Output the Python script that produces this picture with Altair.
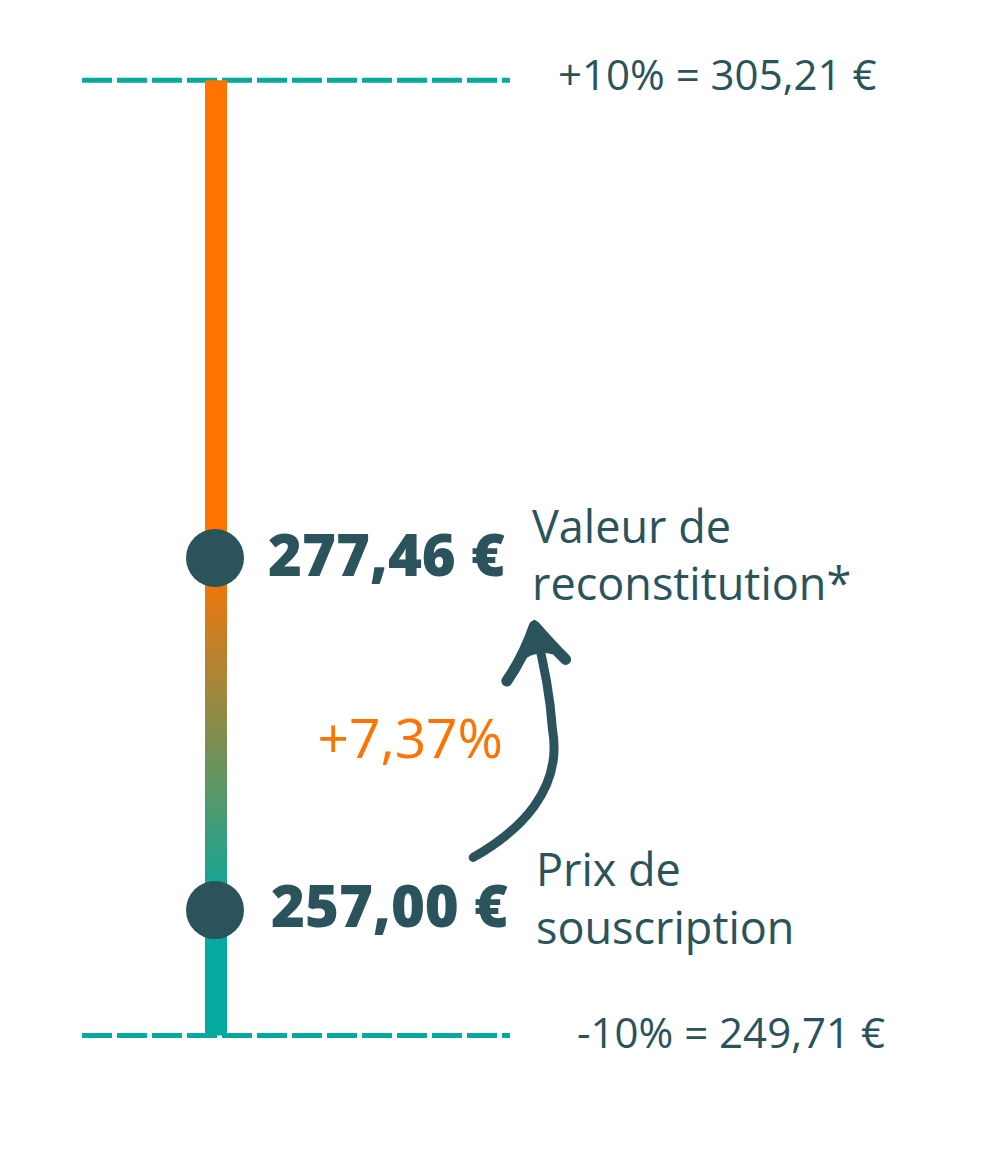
import altair as alt
import pandas as pd

# ---- data ----
level_names = ["+10%", "-10%"]
level_values = [305.21, 249.71]
level_labels = ["+10% = 305,21 €", "-10% = 249,71 €"]

point_names = ["valeur", "prix"]
point_values = [277.46, 257.00]
point_labels = ["277,46 €", "257,00 €"]
desc_line1 = ["Valeur de", "Prix de"]
desc_line2 = ["reconstitution*", "souscription"]

change_label = "+7,37%"

segment_names = ["haut", "transition", "bas"]

# ---- style ----
W, H = 984, 1134
DARK = "#2A535B"
TEAL = "#05A99E"
ORANGE = "#FF7300"
FONT = "Open Sans"

yscale = alt.Scale(domain=[243.525, 309.415], nice=False, zero=False)


def Y(field):
    return alt.Y(field, type="quantitative", scale=yscale, axis=None)


levels = pd.DataFrame({"name": level_names, "value": level_values, "label": level_labels})
points = pd.DataFrame({
    "name": point_names, "value": point_values, "label": point_labels,
    "line1": desc_line1, "line2": desc_line2,
})
segments = pd.DataFrame({
    "segment": segment_names,
    "start": [point_values[0], point_values[1], level_values[1]],
    "end": [level_values[0], point_values[0], point_values[1]],
})
change = pd.DataFrame({
    "label": [change_label],
    "value": [(point_values[0] + point_values[1]) / 2],
})

# dashed level lines
rules = alt.Chart(levels).mark_rule(
    color=TEAL, strokeWidth=5, strokeDash=[30, 5]
).encode(x=alt.value(74), x2=alt.value(502), y=Y("value"))

# vertical bar segments
seg_base = alt.Chart(segments)
bar_top = seg_base.transform_filter(alt.datum.segment == "haut").mark_rect(
    fill=ORANGE
).encode(x=alt.value(197), x2=alt.value(219), y=Y("start"), y2=alt.Y2("end"))
bar_bottom = seg_base.transform_filter(alt.datum.segment == "bas").mark_rect(
    fill=TEAL
).encode(x=alt.value(197), x2=alt.value(219), y=Y("start"), y2=alt.Y2("end"))
grad = alt.Gradient(
    gradient="linear",
    stops=[alt.GradientStop(color=ORANGE, offset=0),
           alt.GradientStop(color=TEAL, offset=1)],
    x1=0, x2=0, y1=0, y2=1,
)
bar_mid = seg_base.transform_filter(alt.datum.segment == "transition").mark_rect(
    fill=grad
).encode(x=alt.value(197), x2=alt.value(219), y=Y("start"), y2=alt.Y2("end"))

# dots
dots = alt.Chart(points).mark_circle(size=3364, color=DARK, opacity=1).encode(
    x=alt.value(207), y=Y("value")
)


def text_layer(df, name_field, name, text_field, x, dy, size, weight=400,
               color=DARK, align="left"):
    return alt.Chart(df).transform_filter(
        alt.datum[name_field] == name
    ).mark_text(
        align=align, baseline="alphabetic", dy=dy, fontSize=size,
        fontWeight=weight, font=FONT, color=color,
    ).encode(x=alt.value(x), y=Y("value"), text=alt.Text(text_field))


texts = [
    text_layer(levels, "name", "+10%", "label", 550, 10, 42),
    text_layer(levels, "name", "-10%", "label", 569, 12, 42),
    text_layer(points, "name", "valeur", "label", 260, 18, 58, 800),
    text_layer(points, "name", "prix", "label", 263, 17, 58, 800),
    text_layer(points, "name", "valeur", "line1", 524, -15, 45),
    text_layer(points, "name", "valeur", "line2", 524, 42, 45),
    text_layer(points, "name", "prix", "line1", 528, -24, 45),
    text_layer(points, "name", "prix", "line2", 528, 34, 45),
]

change_text = alt.Chart(change).mark_text(
    align="right", baseline="alphabetic", dy=24, fontSize=55, fontWeight=500,
    font=FONT, color=ORANGE,
).encode(x=alt.value(495), y=Y("value"), text=alt.Text("label"))

# curved arrow (custom symbol shapes)
shaft_path = "M -0.39 0.97 C 0.0 0.75 0.36 0.4 0.27 -0.1 C 0.25 -0.4 0.2 -0.65 0.125 -0.93"
head_path = "M -0.11 -0.5 Q 0.03 -0.7 0.12 -0.96 Q 0.26 -0.8 0.38 -0.68"
head_fill = "M 0.12 -0.99 L -0.02 -0.66 Q 0.12 -0.78 0.27 -0.74 Z"
arrow_shaft = alt.Chart(change).mark_point(
    shape=shaft_path, size=57600, filled=False, stroke=DARK, strokeWidth=9,
    strokeCap="round", opacity=1, yOffset=7,
).encode(x=alt.value(512), y=Y("value"))
arrow_head = alt.Chart(change).mark_point(
    shape=head_path, size=57600, filled=False, stroke=DARK, strokeWidth=11,
    strokeCap="round", strokeJoin="round", opacity=1, yOffset=7,
).encode(x=alt.value(512), y=Y("value"))
arrow_tip = alt.Chart(change).mark_point(
    shape=head_fill, size=57600, filled=True, fill=DARK, stroke=DARK,
    strokeWidth=4, strokeJoin="round", opacity=1, yOffset=7,
).encode(x=alt.value(512), y=Y("value"))

chart = alt.layer(
    rules, bar_top, bar_mid, bar_bottom, dots, *texts, change_text,
    arrow_shaft, arrow_head, arrow_tip,
).properties(
    width=W, height=H, padding=0,
    autosize=alt.AutoSizeParams(type="fit", contains="padding"),
    background="white",
).configure_view(stroke=None)

chart.save("out.html", embed_options={"renderer": "svg", "actions": False})
